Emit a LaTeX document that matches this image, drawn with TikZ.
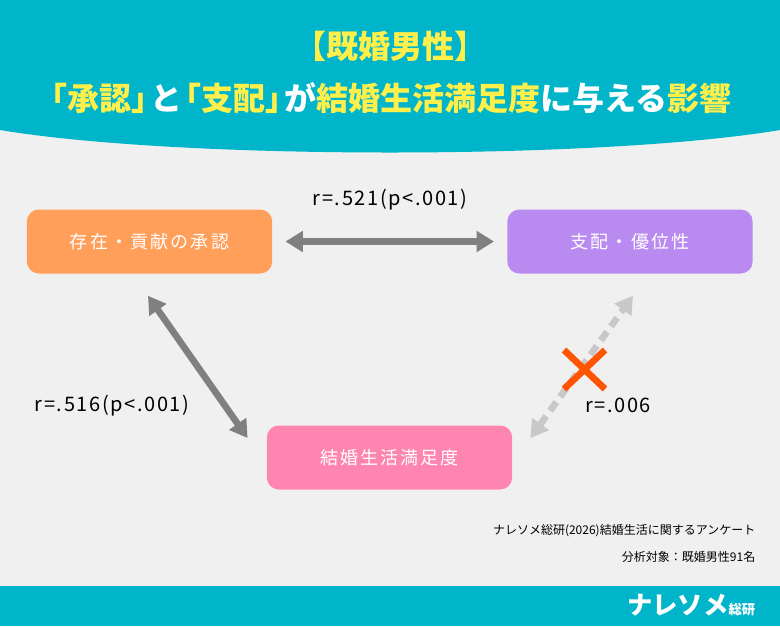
\documentclass[tikz,border=0pt]{standalone}
\usepackage{fontspec}
\setmainfont{Noto Sans CJK JP}
\usepackage{xcolor}
\definecolor{teal}{HTML}{00B5CA}
\definecolor{canvas}{HTML}{F0F0F0}
\definecolor{titlefg}{HTML}{FFEF4A}
\definecolor{recogc}{HTML}{FF9F5A}
\definecolor{domc}{HTML}{B98AF0}
\definecolor{satc}{HTML}{FF85B1}
\definecolor{darkarrow}{HTML}{808080}
\definecolor{lightarrow}{HTML}{C9C7C7}
\definecolor{crossc}{HTML}{FF5400}
\usetikzlibrary{arrows.meta, positioning}
\tikzset{factor/.style={rectangle, rounded corners=9pt, minimum width=184pt, minimum height=48pt, text=white, font=\fontsize{13.5}{16}\selectfont\addfontfeature{LetterSpace=12}},
  corr/.style={line width=5pt, darkarrow, {Triangle[length=13pt,width=15pt]}-{Triangle[length=13pt,width=15pt]}},
  nocorr/.style={corr, lightarrow, dash pattern=on 8pt off 5pt},
  rlabel/.style={font=\fontsize{15}{18}\selectfont\addfontfeature{LetterSpace=8}, text=black},
  heading/.style={text=titlefg, font=\bfseries\fontsize{24}{28}\selectfont}}
\begin{document}
\begin{tikzpicture}[x=0.75pt, y=-0.75pt]
    \useasboundingbox (0,0) rectangle (780,626);
    \fill[canvas] (0,0) rectangle (780,626);
    % header and footer bands
    \fill[teal] (0,0) -- (780,0) -- (780,130) .. controls (600,160) and (180,160) .. (0,130) -- cycle;
    \fill[teal] (0,586) rectangle (780,626);
    \node[heading] (title1) at (390,46) {【既婚男性】};
    \node[heading] (title2) at (390,98) {\hspace{-0.4em}「承認」\hspace{-0.4em}\textcolor{white}{と}\hspace{-0.4em}「支配」\hspace{-0.4em}\textcolor{white}{が}結婚生活満足度\textcolor{white}{に与える}影響};

    \node[factor, fill=recogc] (recog) at (149.5,241.5) {存在・貢献の承認};
    \node[factor, fill=domc] (dom) at (630,241.5) {支配・優位性};
    \node[factor, fill=satc] (sat) at (389.5,457.5) {結婚生活満足度};

    \draw[corr] ([shift={(13,0)}]recog.east) -- ([shift={(-13,0)}]dom.west);
    \draw[corr] ([shift={(-1.5,22)}]recog.south) -- ([shift={(-19,-19.5)}]sat.west);
    \draw[nocorr] ([shift={(18,-19.5)}]sat.east) -- ([shift={(3,22)}]dom.south);

    \node[rlabel] (r1) at (390,200) {r=.521(p<.001)};
    \node[rlabel] (r2) at (112,406) {r=.516(p<.001)};
    \node[rlabel] (r3) at (618,405) {r=.006};
    \draw[crossc, line width=5pt] (564,350) -- (605,389) (564,389) -- (605,350);

    \node[anchor=east, font=\fontsize{9}{11}\selectfont] (src) at (760,531) {ナレソメ総研(2026)結婚生活に関するアンケート};
    \node[anchor=east, font=\fontsize{9}{11}\selectfont] (target) at (760,557) {分析対象：既婚男性91名};
    \node[anchor=east, text=white, font=\bfseries\fontsize{19}{22}\selectfont] (logo) at (760,605) {ナレソメ\fontsize{10}{12}\selectfont 総研};
\end{tikzpicture}
\end{document}
